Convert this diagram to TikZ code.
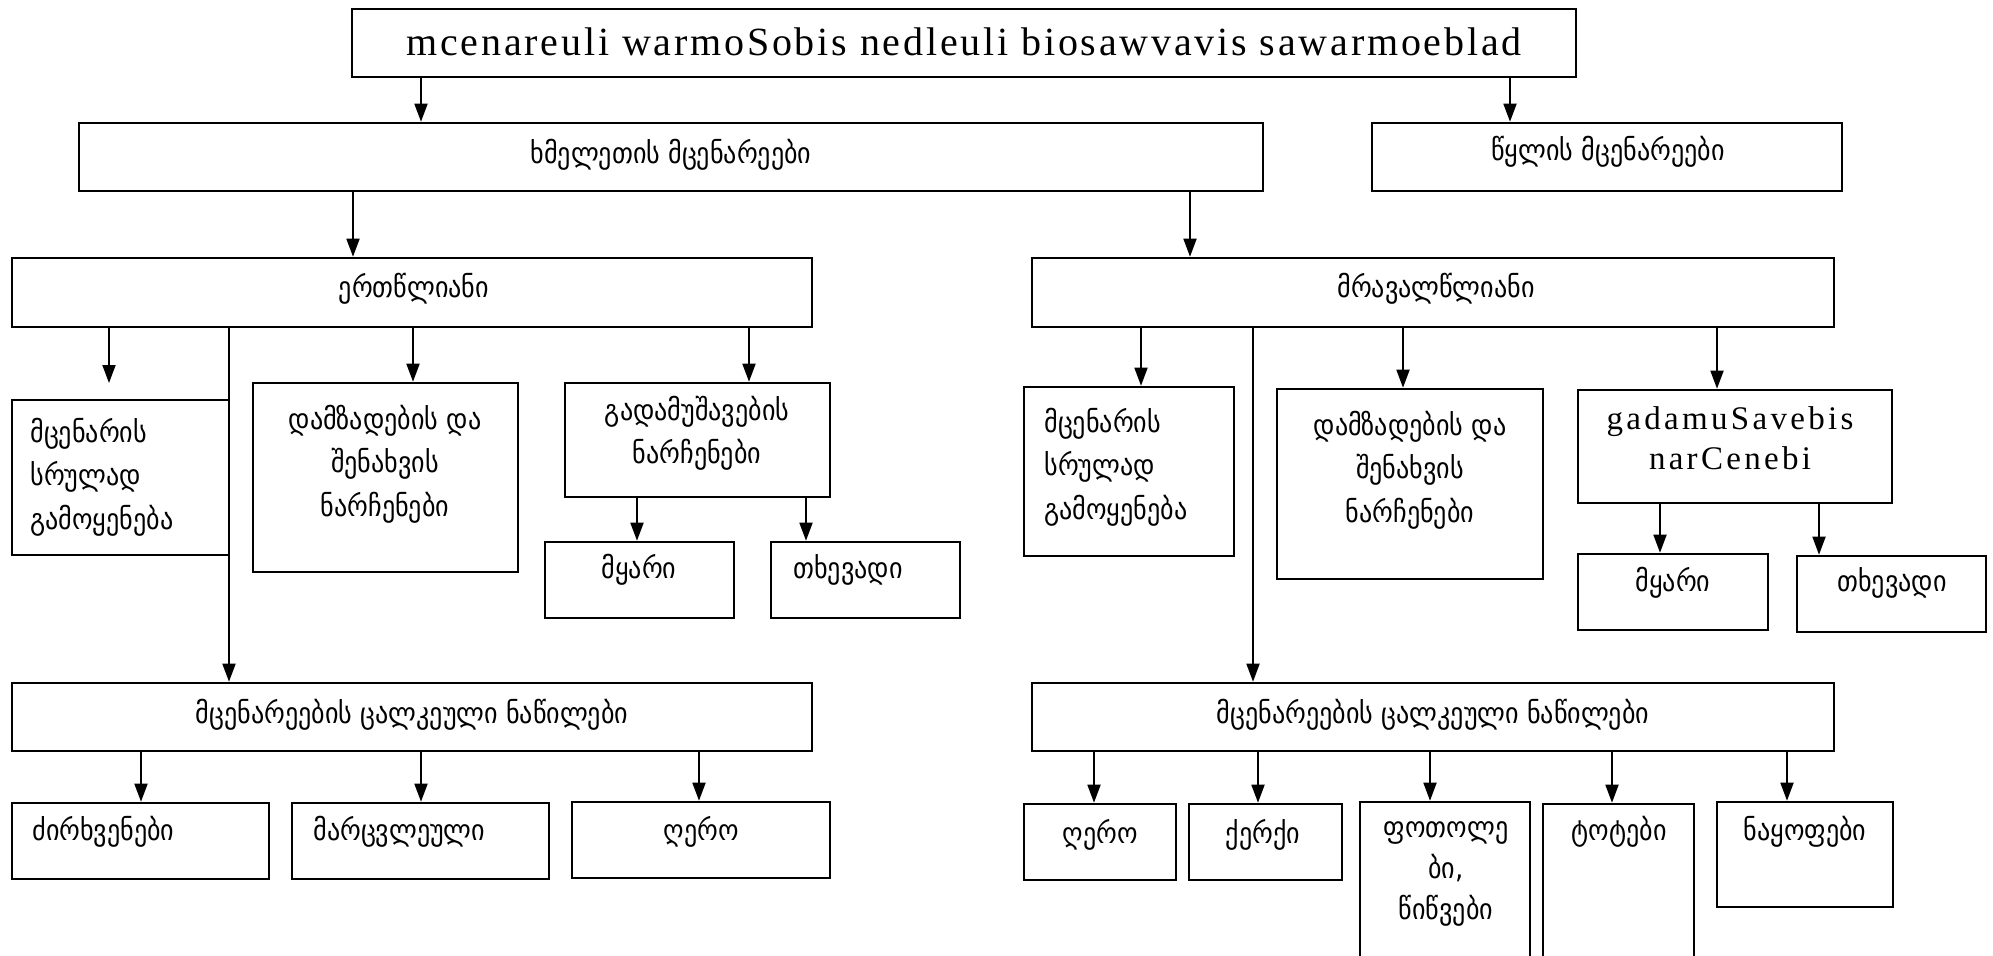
\documentclass[tikz,border=0pt]{standalone}
\usepackage{fontspec}
\usetikzlibrary{arrows.meta,fit}
\newfontfamily\geofont{DejaVu Sans Condensed}
\newfontfamily\latwide{Liberation Serif}[LetterSpace=7.0]
\newfontfamily\latfont{Liberation Serif}[LetterSpace=10.0]
\newcommand\gbox[5]{\node[box, fit={(#2,#3) (#4,#5)}] (#1) {};}
\tikzset{
  box/.style={draw, line width=1.3pt, inner sep=0pt},
  conn/.style={line width=0.9pt},
  arr/.style={conn, -{Triangle[length=9pt,width=6.5pt]}},
  gtxt/.style={font=\geofont\fontsize{14.5}{21.7}\selectfont, inner sep=0pt},
  ltitle/.style={font=\latwide\fontsize{20}{24}\selectfont, inner sep=0pt},
  ltxt/.style={font=\latfont\fontsize{16.5}{20}\selectfont, inner sep=0pt},
}
\begin{document}
\begin{tikzpicture}[x=0.5pt,y=-0.5pt]
\useasboundingbox (0,0) rectangle (1993,955);
\fill[white] (0,0) rectangle (1993,955);

% ---- top levels
\gbox{title}{352}{9}{1576}{77}
\node[ltitle] (ttitle) at (964,42) {mcenareuli warmoSobis nedleuli biosawvavis sawarmoeblad};
\gbox{land}{79}{123}{1263}{191}
\node[gtxt] (tland) at (671,155) {ხმელეთის  მცენარეები};
\gbox{water}{1372}{123}{1842}{191}
\node[gtxt] (twater) at (1608,152) {წყლის  მცენარეები};
\draw[arr] (title.south -| 421,0) -- (land.north -| 421,0);
\draw[arr] (title.south -| 1510,0) -- (water.north -| 1510,0);

\gbox{ann}{12}{258}{812}{327}
\node[gtxt] (tann) at (414,289) {ერთწლიანი};
\gbox{per}{1032}{258}{1834}{327}
\node[gtxt] (tper) at (1436,289) {მრავალწლიანი};
\draw[arr] (land.south -| 353,0) -- (ann.north -| 353,0);
\draw[arr] (land.south -| 1190,0) -- (per.north -| 1190,0);

% ---- annual branch
\gbox{lwhole}{12}{400}{229}{555}
\node[gtxt, align=left, anchor=west] (tlwhole) at (30,477) {მცენარის\\სრულად\\გამოყენება};
\coordinate (lwholein) at (109,383);
\draw[arr] (ann.south -| 109,0) -- (lwholein);

\gbox{lstore}{253}{383}{518}{572}
\node[gtxt, align=center] (tlstore) at (385,464) {დამზადების და\\შენახვის\\ნარჩენები};
\draw[arr] (ann.south -| 413,0) -- (lstore.north -| 413,0);

\gbox{lproc}{565}{383}{830}{497}
\node[gtxt, align=center] (tlproc) at (697,433) {გადამუშავების\\ნარჩენები};
\draw[arr] (ann.south -| 749,0) -- (lproc.north -| 749,0);

\gbox{lsolid}{545}{542}{734}{618}
\node[gtxt] (tlsolid) at (639,570) {მყარი};
\gbox{lliquid}{771}{542}{960}{618}
\node[gtxt] (tlliquid) at (848,570) {თხევადი};
\draw[arr] (lproc.south -| 637,0) -- (lsolid.north -| 637,0);
\draw[arr] (lproc.south -| 806,0) -- (lliquid.north -| 806,0);

\gbox{lparts}{12}{683}{812}{751}
\node[gtxt] (tlparts) at (412,715) {მცენარეების ცალკეული ნაწილები};
\draw[arr] (ann.south -| 229,0) -- (lparts.north -| 229,0);

\gbox{lroots}{12}{803}{269}{879}
\node[gtxt, anchor=west] (tlroots) at (32,832) {ძირხვენები};
\gbox{lgrain}{292}{803}{549}{879}
\node[gtxt, anchor=west] (tlgrain) at (313,832) {მარცვლეული};
\gbox{lstem}{572}{802}{830}{878}
\node[gtxt] (tlstem) at (701,832) {ღერო};
\draw[arr] (lparts.south -| 141,0) -- (lroots.north -| 141,0);
\draw[arr] (lparts.south -| 421,0) -- (lgrain.north -| 421,0);
\draw[arr] (lparts.south -| 699,0) -- (lstem.north -| 699,0);

% ---- perennial branch
\gbox{rwhole}{1024}{387}{1234}{556}
\node[gtxt, align=left, anchor=west] (trwhole) at (1044,467) {მცენარის\\სრულად\\გამოყენება};
\draw[arr] (per.south -| 1141,0) -- (rwhole.north -| 1141,0);

\gbox{rstore}{1277}{389}{1543}{579}
\node[gtxt, align=center] (trstore) at (1410,470) {დამზადების და\\შენახვის\\ნარჩენები};
\draw[arr] (per.south -| 1403,0) -- (rstore.north -| 1403,0);

\gbox{rproc}{1578}{390}{1892}{503}
\node[ltxt, align=center] (trproc) at (1730,438) {gadamuSavebis\\narCenebi};
\draw[arr] (per.south -| 1717,0) -- (rproc.north -| 1717,0);

\gbox{rsolid}{1578}{554}{1768}{630}
\node[gtxt] (trsolid) at (1673,583) {მყარი};
\gbox{rliquid}{1797}{556}{1986}{632}
\node[gtxt] (trliquid) at (1892,583) {თხევადი};
\draw[arr] (rproc.south -| 1660,0) -- (rsolid.north -| 1660,0);
\draw[arr] (rproc.south -| 1819,0) -- (rliquid.north -| 1819,0);

\gbox{rparts}{1032}{683}{1834}{751}
\node[gtxt] (trparts) at (1433,715) {მცენარეების ცალკეული ნაწილები};
\draw[arr] (per.south -| 1253,0) -- (rparts.north -| 1253,0);

\gbox{rstem}{1024}{804}{1176}{880}
\node[gtxt] (trstem) at (1100,835) {ღერო};
\gbox{rbark}{1189}{804}{1342}{880}
\node[gtxt] (trbark) at (1263,835) {ქერქი};
\gbox{rleaf}{1360}{802}{1530}{1000}
\node[gtxt, align=center, font=\geofont\fontsize{14.5}{20.5}\selectfont] (trleaf) at (1446,874) {ფოთოლე\\ბი,\\წიწვები};
\gbox{rbranch}{1543}{804}{1694}{1000}
\node[gtxt] (trbranch) at (1619,832) {ტოტები};
\gbox{rfruit}{1717}{802}{1893}{907}
\node[gtxt] (trfruit) at (1805,832) {ნაყოფები};
\draw[arr] (rparts.south -| 1094,0) -- (rstem.north -| 1094,0);
\draw[arr] (rparts.south -| 1258,0) -- (rbark.north -| 1258,0);
\draw[arr] (rparts.south -| 1430,0) -- (rleaf.north -| 1430,0);
\draw[arr] (rparts.south -| 1612,0) -- (rbranch.north -| 1612,0);
\draw[arr] (rparts.south -| 1787,0) -- (rfruit.north -| 1787,0);
\end{tikzpicture}
\end{document}
